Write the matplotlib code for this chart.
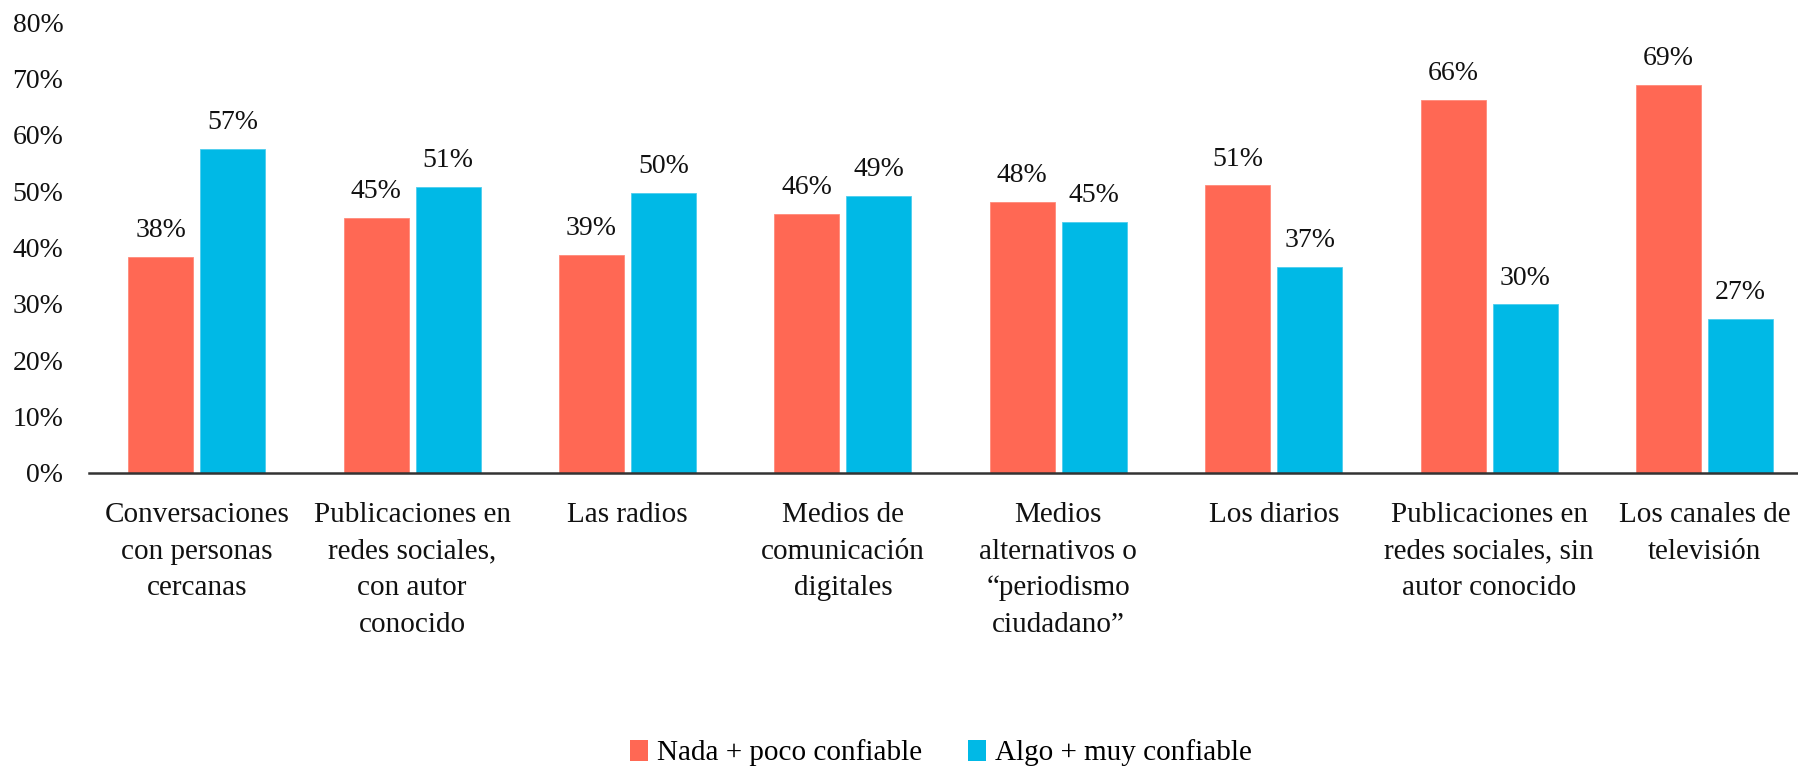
import matplotlib
matplotlib.use("Agg")
import matplotlib.pyplot as plt
from matplotlib.patches import Patch
import numpy as np

plt.rcParams['font.family'] = ['Liberation Serif', 'DejaVu Serif']

categories = [
    "Conversaciones\ncon personas\ncercanas",
    "Publicaciones en\nredes sociales,\ncon autor\nconocido",
    "Las radios",
    "Medios de\ncomunicación\ndigitales",
    "Medios\nalternativos o\n“periodismo\nciudadano”",
    "Los diarios",
    "Publicaciones en\nredes sociales, sin\nautor conocido",
    "Los canales de\ntelevisión",
]
nada_poco = [38.3, 45.3, 38.7, 46.0, 48.1, 51.0, 66.1, 68.8]
algo_muy = [57.5, 50.7, 49.7, 49.2, 44.6, 36.6, 29.9, 27.4]
nada_labels = ["38%", "45%", "39%", "46%", "48%", "51%", "66%", "69%"]
algo_labels = ["57%", "51%", "50%", "49%", "45%", "37%", "30%", "27%"]
series_names = ["Nada + poco confiable", "Algo + muy confiable"]
yticks = [0, 10, 20, 30, 40, 50, 60, 70, 80]

RED = '#FF6854'
BLUE = '#00B9E6'
TXT = '#111111'

W, H = 1798, 766
fig = plt.figure(figsize=(W / 100, H / 100), dpi=100)
ax = fig.add_axes([89 / W, (H - 473) / H, (W - 89) / W, 451 / H])

x = np.arange(len(categories))
bw = 0.302
off = 0.167
b1 = ax.bar(x - off, nada_poco, bw, color=RED, edgecolor='#FF8A7A', linewidth=0.6)
b2 = ax.bar(x + off, algo_muy, bw, color=BLUE, edgecolor='#4DCDEE', linewidth=0.6)

for bars, labels in ((b1, nada_labels), (b2, algo_labels)):
    for rect, lab in zip(bars, labels):
        ax.annotate(lab, (rect.get_x() + rect.get_width() / 2, rect.get_height()),
                    xytext=(0, 10), textcoords='offset points', ha='center', va='bottom',
                    fontsize=20, color=TXT)

ax.set_xlim(-0.5, (W - 89) / 215.4 - 0.5)
ax.set_ylim(0, 80)
ax.set_yticks(yticks)
ax.set_yticklabels([f"{t}%" for t in yticks], fontsize=20, color=TXT)
ax.set_xticks(x)
ax.set_xticklabels(categories, fontsize=21, color=TXT, linespacing=1.53)
ax.tick_params(axis='both', length=0)
ax.tick_params(axis='y', pad=18.5)
ax.tick_params(axis='x', pad=21)

for s in ['top', 'right', 'left']:
    ax.spines[s].set_visible(False)
ax.spines['bottom'].set_color('#333333')
ax.spines['bottom'].set_linewidth(1.8)

handles = [Patch(facecolor=RED), Patch(facecolor=BLUE)]
fig.legend(handles, series_names, loc='center', bbox_to_anchor=(941 / W, 1 - 753 / H),
           ncol=2, frameon=False, fontsize=21, handlelength=0.6, handleheight=0.75,
           handletextpad=0.3, columnspacing=1.6)

fig.savefig('out.png', dpi=100)
